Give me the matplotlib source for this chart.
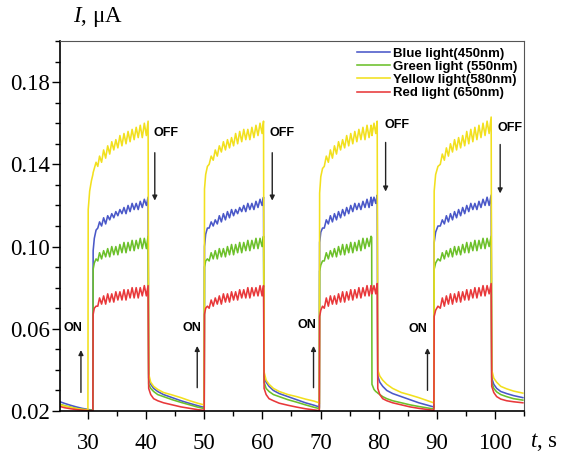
import numpy as np
import matplotlib
matplotlib.use("Agg")
import matplotlib.pyplot as plt
from matplotlib.ticker import MultipleLocator

plt.rcParams['font.family'] = ['Liberation Serif', 'DejaVu Serif']
plt.rcParams['mathtext.fontset'] = 'custom'
plt.rcParams['mathtext.rm'] = 'Liberation Serif'
plt.rcParams['mathtext.it'] = 'Liberation Serif:italic'

# tiempo (s), compartido por las cuatro curvas
t = [
    # ciclo 1
    25.2, 26.0, 27.0, 28.0, 29.0, 30.0, 30.05, 30.3, 30.6, 30.85, 30.9, 31.1, 31.4,
    31.7, 32.0, 32.35, 32.7, 33.05, 33.4, 33.75, 34.1, 34.45, 34.8, 35.15, 35.5, 35.85,
    36.2, 36.55, 36.9, 37.25, 37.6, 37.95, 38.3, 38.65, 39.0, 39.35, 39.7, 40.05, 40.35,
    40.45, 40.8, 41.3, 42.0, 43.0, 44.5, 46.0, 47.5, 49.0, 49.95,
    # ciclo 2
    50.0, 50.05, 50.25, 50.55,
    50.85, 51.2, 51.55, 51.9, 52.25, 52.6, 52.95, 53.3, 53.65, 54.0, 54.35, 54.7, 55.05,
    55.4, 55.75, 56.1, 56.45, 56.8, 57.15, 57.5, 57.85, 58.2, 58.55, 58.9, 59.25, 59.6,
    59.95, 60.2,
    60.3, 60.65, 61.15, 61.9, 62.9, 64.4, 65.9, 67.4, 68.9, 69.75,
    # ciclo 3
    69.8, 69.85, 70.05, 70.35,
    70.65, 71.0, 71.35, 71.7, 72.05, 72.4, 72.75, 73.1, 73.45, 73.8, 74.15, 74.5, 74.85,
    75.2, 75.55, 75.9, 76.25, 76.6, 76.95, 77.3, 77.65, 78.0, 78.35, 78.7,
    78.8, 78.85, 79.2, 79.5, 79.75,
    79.85, 80.2, 80.7, 81.4, 82.4, 83.9, 85.4, 86.9, 88.4, 89.45,
    # ciclo 4
    89.5, 89.55, 89.8, 90.2,
    90.6, 90.95, 91.3, 91.65, 92.0, 92.35, 92.7, 93.05, 93.4, 93.75, 94.1, 94.45, 94.8,
    95.15, 95.5, 95.85, 96.2, 96.55, 96.9, 97.25, 97.6, 97.95, 98.3, 98.65, 99.0, 99.35,
    99.45, 99.8, 100.3, 101.0, 102.0, 103.2, 104.8,
]

# corriente (uA)
azul = [
    0.0245, 0.0237, 0.0228, 0.0220, 0.0213, 0.0208, 0.0207, 0.0206, 0.0205, 0.0205, 0.098, 0.104, 0.108,
    0.109, 0.112, 0.110, 0.114, 0.111, 0.115, 0.113, 0.116, 0.114, 0.117, 0.115, 0.118, 0.116,
    0.119, 0.116, 0.120, 0.117, 0.121, 0.118, 0.121, 0.118, 0.122, 0.119, 0.123, 0.120, 0.124,
    0.036, 0.033, 0.031, 0.0295, 0.028, 0.0265, 0.025, 0.0237, 0.0225, 0.0218,
    0.0215, 0.100, 0.106, 0.109,
    0.109, 0.112, 0.110, 0.113, 0.111, 0.115, 0.112, 0.116, 0.113, 0.117, 0.114, 0.118, 0.115,
    0.118, 0.116, 0.119, 0.117, 0.120, 0.117, 0.121, 0.118, 0.121, 0.118, 0.122, 0.119, 0.123,
    0.120, 0.124,
    0.037, 0.034, 0.032, 0.030, 0.0285, 0.027, 0.0255, 0.024, 0.0228, 0.022,
    0.0217, 0.102, 0.107, 0.109,
    0.109, 0.113, 0.111, 0.115, 0.112, 0.116, 0.113, 0.117, 0.114, 0.118, 0.115, 0.119, 0.116,
    0.120, 0.117, 0.121, 0.118, 0.121, 0.118, 0.122, 0.119, 0.123, 0.119, 0.124,
    0.1225, 0.120, 0.124, 0.121, 0.125,
    0.037, 0.034, 0.032, 0.030, 0.0285, 0.027, 0.0255, 0.024, 0.0228, 0.022,
    0.0218, 0.102, 0.107, 0.110,
    0.110, 0.113, 0.111, 0.115, 0.112, 0.116, 0.113, 0.117, 0.114, 0.118, 0.115, 0.119, 0.116,
    0.120, 0.117, 0.121, 0.118, 0.121, 0.118, 0.122, 0.119, 0.123, 0.120, 0.124, 0.120, 0.125,
    0.036, 0.033, 0.031, 0.0295, 0.0285, 0.0275, 0.0265,
]

verde = [
    0.0233, 0.0226, 0.0219, 0.0213, 0.0208, 0.0205, 0.0205, 0.0204, 0.0204, 0.0204, 0.089, 0.092, 0.094,
    0.093, 0.097, 0.094, 0.098, 0.095, 0.099, 0.095, 0.100, 0.096, 0.100, 0.096, 0.101, 0.097,
    0.102, 0.097, 0.102, 0.098, 0.103, 0.098, 0.103, 0.099, 0.104, 0.099, 0.104, 0.099, 0.105,
    0.033, 0.031, 0.0295, 0.028, 0.027, 0.0255, 0.0242, 0.023, 0.0218, 0.0212,
    0.0212, 0.090, 0.093, 0.094,
    0.093, 0.097, 0.094, 0.098, 0.094, 0.099, 0.095, 0.099, 0.095, 0.100, 0.096, 0.101, 0.096,
    0.101, 0.097, 0.102, 0.097, 0.102, 0.098, 0.103, 0.098, 0.103, 0.099, 0.104, 0.099, 0.104,
    0.100, 0.105,
    0.034, 0.031, 0.0295, 0.028, 0.027, 0.0255, 0.0243, 0.023, 0.0218, 0.0212,
    0.0211, 0.088, 0.091, 0.093,
    0.093, 0.097, 0.094, 0.098, 0.095, 0.099, 0.095, 0.100, 0.096, 0.101, 0.096, 0.101, 0.097,
    0.102, 0.097, 0.102, 0.098, 0.103, 0.098, 0.104, 0.099, 0.104, 0.100, 0.105,
    0.1045, 0.033, 0.0305, 0.0295, 0.029,
    0.0287, 0.028, 0.027, 0.026, 0.025, 0.024, 0.023, 0.0222, 0.0215, 0.021,
    0.0211, 0.089, 0.092, 0.094,
    0.093, 0.097, 0.094, 0.098, 0.095, 0.099, 0.095, 0.100, 0.096, 0.100, 0.096, 0.101, 0.097,
    0.102, 0.097, 0.102, 0.098, 0.103, 0.098, 0.103, 0.099, 0.104, 0.099, 0.104, 0.100, 0.105,
    0.034, 0.031, 0.0293, 0.028, 0.027, 0.026, 0.0253,
]

amarillo = [
    0.0230, 0.0224, 0.0218, 0.0212, 0.0208, 0.0206, 0.118, 0.127, 0.132, 0.135, 0.136, 0.138, 0.141,
    0.139, 0.144, 0.141, 0.147, 0.143, 0.149, 0.145, 0.151, 0.147, 0.152, 0.148, 0.154, 0.149,
    0.155, 0.150, 0.156, 0.151, 0.157, 0.152, 0.158, 0.153, 0.159, 0.153, 0.160, 0.154, 0.161,
    0.038, 0.034, 0.032, 0.0305, 0.029, 0.0278, 0.0265, 0.025, 0.0237, 0.023,
    0.0228, 0.128, 0.135, 0.139,
    0.140, 0.144, 0.142, 0.147, 0.144, 0.149, 0.146, 0.151, 0.147, 0.152, 0.148, 0.153, 0.149,
    0.155, 0.150, 0.156, 0.151, 0.157, 0.152, 0.157, 0.152, 0.158, 0.153, 0.159, 0.154, 0.160,
    0.155, 0.161,
    0.039, 0.035, 0.033, 0.031, 0.0295, 0.028, 0.027, 0.0258, 0.0248, 0.024,
    0.0235, 0.126, 0.134, 0.138,
    0.139, 0.144, 0.141, 0.147, 0.143, 0.149, 0.145, 0.151, 0.147, 0.152, 0.148, 0.154, 0.149,
    0.155, 0.150, 0.156, 0.151, 0.157, 0.152, 0.158, 0.152, 0.159, 0.153, 0.159,
    0.157, 0.154, 0.160, 0.155, 0.161,
    0.040, 0.037, 0.035, 0.033, 0.031, 0.029, 0.0278, 0.0265, 0.025, 0.024,
    0.0237, 0.127, 0.135, 0.139,
    0.140, 0.145, 0.142, 0.148, 0.144, 0.150, 0.146, 0.152, 0.147, 0.153, 0.148, 0.154, 0.149,
    0.156, 0.150, 0.157, 0.151, 0.158, 0.152, 0.159, 0.153, 0.160, 0.154, 0.161, 0.155, 0.163,
    0.040, 0.036, 0.034, 0.032, 0.0308, 0.0297, 0.0287,
]

rojo = [
    0.0222, 0.0216, 0.0211, 0.0207, 0.0204, 0.0202, 0.0202, 0.0201, 0.0201, 0.0201, 0.067, 0.070, 0.071,
    0.071, 0.075, 0.072, 0.076, 0.072, 0.077, 0.073, 0.077, 0.073, 0.078, 0.074, 0.078, 0.074,
    0.079, 0.074, 0.079, 0.075, 0.080, 0.075, 0.080, 0.075, 0.080, 0.076, 0.081, 0.076, 0.081,
    0.031, 0.028, 0.026, 0.025, 0.024, 0.023, 0.022, 0.0213, 0.0206, 0.0203,
    0.0203, 0.067, 0.070, 0.071,
    0.070, 0.074, 0.071, 0.075, 0.072, 0.076, 0.072, 0.077, 0.073, 0.077, 0.073, 0.078, 0.074,
    0.078, 0.074, 0.079, 0.075, 0.079, 0.075, 0.080, 0.075, 0.080, 0.076, 0.080, 0.076, 0.081,
    0.076, 0.081,
    0.031, 0.028, 0.026, 0.025, 0.0238, 0.0228, 0.0219, 0.0211, 0.0205, 0.0202,
    0.0202, 0.066, 0.069, 0.071,
    0.070, 0.075, 0.071, 0.076, 0.072, 0.076, 0.072, 0.077, 0.073, 0.078, 0.073, 0.078, 0.074,
    0.079, 0.074, 0.079, 0.075, 0.080, 0.075, 0.080, 0.076, 0.081, 0.076, 0.081,
    0.0795, 0.077, 0.081, 0.077, 0.082,
    0.031, 0.028, 0.026, 0.025, 0.024, 0.023, 0.022, 0.0213, 0.0207, 0.0203,
    0.0203, 0.066, 0.069, 0.071,
    0.070, 0.075, 0.071, 0.076, 0.072, 0.077, 0.072, 0.077, 0.073, 0.078, 0.073, 0.078, 0.074,
    0.079, 0.074, 0.079, 0.075, 0.080, 0.075, 0.080, 0.076, 0.081, 0.076, 0.081, 0.077, 0.082,
    0.032, 0.029, 0.027, 0.0258, 0.025, 0.0245, 0.024,
]

etiquetas = ["Blue light(450nm)", "Green light (550nm)", "Yellow light(580nm)", "Red light (650nm)"]
colores = ["#4a58c8", "#6cc02a", "#f2e01e", "#e8383a"]

fig = plt.figure(figsize=(5.64, 4.58), dpi=100)
ax = fig.add_axes([0.1064, 0.1026, 0.8227, 0.8079])

for serie, lab, col in zip([azul, verde, amarillo, rojo], etiquetas, colores):
    ax.plot(t, serie, color=col, lw=1.15, label=lab)

ax.set_xlim(25.2, 105.0)
ax.set_ylim(0.02, 0.2)
ax.set_xticks(np.arange(30, 101, 10))
ax.xaxis.set_minor_locator(MultipleLocator(5))
ax.set_yticks([0.02, 0.06, 0.10, 0.14, 0.18])
ax.set_yticklabels(["0.02", "0.06", "0.10", "0.14", "0.18"])
ax.yaxis.set_minor_locator(MultipleLocator(0.01))
ax.tick_params(axis='both', which='major', direction='out', length=6, width=1, labelsize=16.5)
ax.tick_params(axis='both', which='minor', direction='out', length=3.5, width=1)
ax.tick_params(axis='x', pad=10)
ax.tick_params(axis='y', pad=1)
for lado in ['left', 'bottom']:
    ax.spines[lado].set_linewidth(1.2)
for lado in ['top', 'right']:
    ax.spines[lado].set_color('#555555')

fig.text(73/564, 1 - 17/458, r'$I$, μA', fontsize=16.5, ha='left', va='center')
fig.text(530/564, 1 - 442/458, r'$t$, s', fontsize=16.5, ha='left', va='center')

ax.legend(loc='upper right', bbox_to_anchor=(1.005, 1.008), frameon=False,
          prop={'family': 'Liberation Sans', 'weight': 'bold', 'size': 9.5},
          handlelength=2.5, handletextpad=0.2, labelspacing=0.08, borderpad=0.2)

flecha = dict(arrowstyle='-|>', color='#222222', lw=1.0, mutation_scale=7)
fuente = dict(family='Liberation Sans', weight='bold', fontsize=9, ha='center', va='center')

# ON
for xt, yt, xa, y0, y1 in [(27.4, 0.0606, 28.8, 0.0277, 0.051),
                           (47.9, 0.0606, 48.8, 0.030, 0.053),
                           (67.6, 0.0616, 68.8, 0.030, 0.053),
                           (86.7, 0.0597, 88.4, 0.0287, 0.052)]:
    ax.text(xt, yt, "ON", **fuente)
    ax.annotate('', xy=(xa, y1), xytext=(xa, y0), arrowprops=flecha)

# OFF
for xt, yt, xa, y0, y1 in [(43.4, 0.155, 41.5, 0.147, 0.121),
                           (63.3, 0.155, 61.7, 0.147, 0.121),
                           (83.1, 0.159, 81.2, 0.152, 0.1254),
                           (102.6, 0.1577, 100.9, 0.151, 0.1245)]:
    ax.text(xt, yt, "OFF", **fuente)
    ax.annotate('', xy=(xa, y1), xytext=(xa, y0), arrowprops=flecha)

fig.savefig("out.png", dpi=100)
